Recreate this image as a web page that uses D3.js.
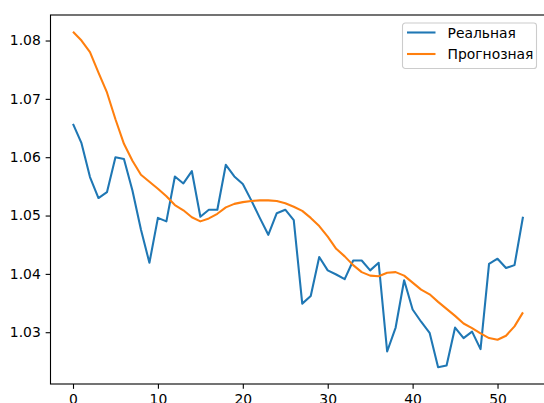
<!DOCTYPE html>
<html>
<head>
<meta charset="utf-8">
<script src="https://cdn.jsdelivr.net/npm/d3@7"></script>
<style>
  body { margin: 0; background: #fff; }
  svg { display: block; font-family: "DejaVu Sans", sans-serif; }
</style>
</head>
<body>
<svg width="544" height="403"></svg>
<script>
const realValues = [1.0657, 1.0624, 1.0566, 1.0530, 1.0540, 1.0600, 1.0597, 1.0543, 1.0476, 1.0419,
  1.0496, 1.0490, 1.0567, 1.0555, 1.0576, 1.0498, 1.0510, 1.0510, 1.0587, 1.0567,
  1.0554, 1.0526, 1.0496, 1.0467, 1.0504, 1.0510, 1.0492, 1.0349, 1.0362, 1.0429,
  1.0406, 1.0399, 1.0391, 1.0423, 1.0423, 1.0406, 1.0419, 1.0267, 1.0308, 1.0389,
  1.0339, 1.0318, 1.0299, 1.0240, 1.0243, 1.0308, 1.0290, 1.0301, 1.0271, 1.0417,
  1.0426, 1.0410, 1.0415, 1.0498];

const forecastValues = [1.0815, 1.0800, 1.0780, 1.0745, 1.0711, 1.0665, 1.0623, 1.0594, 1.0570, 1.0558,
  1.0546, 1.0533, 1.0518, 1.0509, 1.0497, 1.0490, 1.0495, 1.0503, 1.0514, 1.0520,
  1.0523, 1.0525, 1.0526, 1.0526, 1.0525, 1.0521, 1.0515, 1.0508, 1.0496, 1.0482,
  1.0464, 1.0443, 1.0430, 1.0415, 1.0403, 1.0397, 1.0396, 1.0402, 1.0403, 1.0397,
  1.0385, 1.0373, 1.0365, 1.0352, 1.0340, 1.0328, 1.0315, 1.0307, 1.0298, 1.0290,
  1.0287, 1.0294, 1.0310, 1.0334];

const xTicks = [0, 10, 20, 30, 40, 50];
const yTicks = [1.03, 1.04, 1.05, 1.06, 1.07, 1.08];
const seriesNames = ["Реальная", "Прогнозная"];
const seriesColors = ["#1f77b4", "#ff7f0e"];

var svg = d3.select("svg");

var mLeft = 50.5, mRight = 545.5, mTop = 15, mBottom = 384;

// matplotlib-like 5% margins
var n = realValues.length - 1;
var x = d3.scaleLinear()
  .domain([-n * 0.05, n * 1.05])
  .range([mLeft, mRight]);

var all = realValues.concat(forecastValues);
var lo = d3.min(all), hi = d3.max(all), pad = (hi - lo) * 0.05;
var y = d3.scaleLinear()
  .domain([lo - pad, hi + pad])
  .range([mBottom, mTop]);

var line = d3.line()
  .x((d, i) => x(i))
  .y(d => y(d));

// lines
[realValues, forecastValues].forEach(function(vals, k) {
  svg.append("path")
    .datum(vals)
    .attr("fill", "none")
    .attr("stroke", seriesColors[k])
    .attr("stroke-width", 2.08)
    .attr("stroke-linejoin", "round")
    .attr("d", line);
});

// axes
var xAxis = svg.append("g")
  .attr("transform", `translate(0,${mBottom})`)
  .call(d3.axisBottom(x).tickValues(xTicks).tickSize(4.86).tickPadding(5.5).tickSizeOuter(0));

var yAxis = svg.append("g")
  .attr("transform", `translate(${mLeft},0)`)
  .call(d3.axisLeft(y).tickValues(yTicks).tickFormat(d3.format(".2f")).tickSize(4.86).tickPadding(4.86).tickSizeOuter(0));

[xAxis, yAxis].forEach(function(g) {
  g.select(".domain").remove();
  g.selectAll("line").attr("stroke", "#000").attr("stroke-width", 1.1);
  g.selectAll("text")
    .attr("fill", "#000")
    .style("font-family", "DejaVu Sans")
    .style("font-size", "13.9px");
});

// frame
svg.append("rect")
  .attr("x", mLeft)
  .attr("y", mTop)
  .attr("width", mRight - mLeft)
  .attr("height", mBottom - mTop)
  .attr("fill", "none")
  .attr("stroke", "#000")
  .attr("stroke-width", 1.1);

// legend
var lg = svg.append("g").attr("transform", "translate(402.5,23)");

lg.append("rect")
  .attr("width", 134)
  .attr("height", 45.5)
  .attr("rx", 2.8)
  .attr("fill", "#fff")
  .attr("fill-opacity", 0.8)
  .attr("stroke", "#cccccc")
  .attr("stroke-width", 1.1);

var items = lg.selectAll(".item")
  .data(seriesNames)
  .enter()
  .append("g")
  .attr("transform", (d, i) => `translate(0,${9.5 + i * 21.5})`);

items.append("line")
  .attr("x1", 4.5)
  .attr("x2", 33)
  .attr("stroke", (d, i) => seriesColors[i])
  .attr("stroke-width", 2.08);

items.append("text")
  .attr("x", 45)
  .attr("dy", "0.36em")
  .attr("fill", "#000")
  .style("font-size", "13.9px")
  .text(d => d);
</script>
</body>
</html>
